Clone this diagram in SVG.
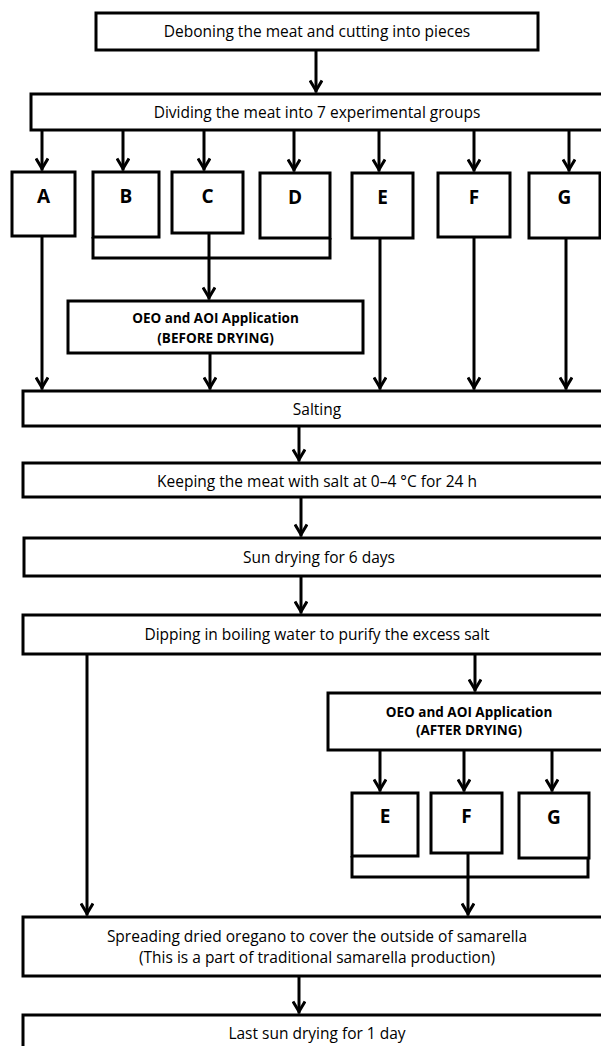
<svg xmlns="http://www.w3.org/2000/svg" width="601" height="1046" viewBox="0 0 601 1046">
<style>
.box{fill:#fff;stroke:#000;stroke-width:3}
.t{font-family:"Open Sans","Liberation Sans",Arial,sans-serif;font-size:15.5px;fill:#000;text-anchor:middle}
.b{font-family:"Open Sans","Liberation Sans",Arial,sans-serif;font-size:13.5px;font-weight:bold;fill:#000;text-anchor:middle}
.L{font-family:"Open Sans","Liberation Sans",Arial,sans-serif;font-size:19px;font-weight:bold;fill:#000;text-anchor:middle}
.c{fill:none;stroke:#000;stroke-width:3}
.a{marker-end:url(#arr)}
</style>
<defs>
<marker id="arr" viewBox="0 0 16 14" markerWidth="16" markerHeight="14" refX="15" refY="7" orient="auto" markerUnits="userSpaceOnUse">
<path d="M3,1 L13,7 L3,13" fill="none" stroke="#000" stroke-width="3"/>
</marker>
</defs>
<rect width="601" height="1046" fill="#fff"/>
<g id="connectors">
<line class="c a" x1="316" y1="51" x2="316" y2="92.5"/>
<line class="c a" x1="42" y1="131" x2="42" y2="170.5"/>
<line class="c a" x1="123" y1="131" x2="123" y2="170.5"/>
<line class="c a" x1="204" y1="131" x2="204" y2="170.5"/>
<line class="c a" x1="294" y1="131" x2="294" y2="171.5"/>
<line class="c a" x1="379" y1="131" x2="379" y2="171.5"/>
<line class="c a" x1="474" y1="131" x2="474" y2="171.5"/>
<line class="c a" x1="569" y1="131" x2="569" y2="171.5"/>
<line class="c a" x1="42" y1="237" x2="42" y2="389.5"/>
<path class="c" d="M93,237 V258 H330 V238"/>
<line class="c a" x1="209" y1="234" x2="209" y2="299.5"/>
<line class="c a" x1="210" y1="354" x2="210" y2="389.5"/>
<line class="c a" x1="380" y1="239" x2="380" y2="389.5"/>
<line class="c a" x1="474" y1="238" x2="474" y2="389.5"/>
<line class="c a" x1="566" y1="239" x2="566" y2="389.5"/>
<line class="c a" x1="299" y1="427" x2="299" y2="461.5"/>
<line class="c a" x1="301" y1="498" x2="301" y2="536.5"/>
<line class="c a" x1="301" y1="577" x2="301" y2="613.5"/>
<line class="c a" x1="475" y1="655" x2="475" y2="691.5"/>
<line class="c a" x1="87" y1="655" x2="87" y2="915.5"/>
<line class="c a" x1="380" y1="751" x2="380" y2="791.5"/>
<line class="c a" x1="464" y1="751" x2="464" y2="791.5"/>
<line class="c a" x1="552" y1="751" x2="552" y2="791.5"/>
<path class="c" d="M352,856 V877 H588 V858"/>
<line class="c a" x1="468" y1="854" x2="468" y2="915.5"/>
<line class="c a" x1="299" y1="977" x2="299" y2="1013.5"/>
</g>
<g id="n-deboning"><rect class="box" x="96" y="13" width="442" height="37"/><text class="t" x="317" y="37">Deboning the meat and cutting into pieces</text></g>
<g id="n-dividing"><rect class="box" x="31" y="94" width="580" height="36"/><text class="t" x="317" y="118">Dividing the meat into 7 experimental groups</text></g>
<g id="n-A"><rect class="box" x="12" y="172" width="63" height="64"/><text class="L" x="43.5" y="203">A</text></g>
<g id="n-B"><rect class="box" x="93" y="172" width="66" height="65"/><text class="L" x="126" y="203">B</text></g>
<g id="n-C"><rect class="box" x="172" y="172" width="71" height="61"/><text class="L" x="207.5" y="203">C</text></g>
<g id="n-D"><rect class="box" x="260" y="173" width="70" height="65"/><text class="L" x="295" y="204">D</text></g>
<g id="n-E"><rect class="box" x="352" y="173" width="61" height="65"/><text class="L" x="382.5" y="204">E</text></g>
<g id="n-F"><rect class="box" x="438" y="173" width="72" height="64"/><text class="L" x="474" y="204">F</text></g>
<g id="n-G"><rect class="box" x="529" y="173" width="71" height="65"/><text class="L" x="564.5" y="204">G</text></g>
<g id="n-before"><rect class="box" x="68" y="301" width="295" height="52"/><text class="b" x="215.5" y="323">OEO and AOI Application</text><text class="b" x="215.5" y="343">(BEFORE DRYING)</text></g>
<g id="n-salting"><rect class="box" x="23" y="391" width="588" height="35"/><text class="t" x="317" y="415">Salting</text></g>
<g id="n-keeping"><rect class="box" x="23" y="463" width="588" height="34"/><text class="t" x="317" y="487">Keeping the meat with salt at 0–4 °C for 24 h</text></g>
<g id="n-sun"><rect class="box" x="24" y="538" width="587" height="38"/><text class="t" x="319" y="563">Sun drying for 6 days</text></g>
<g id="n-dipping"><rect class="box" x="23" y="615" width="588" height="39"/><text class="t" x="317" y="640">Dipping in boiling water to purify the excess salt</text></g>
<g id="n-after"><rect class="box" x="328" y="693" width="283" height="57"/><text class="b" x="469" y="717">OEO and AOI Application</text><text class="b" x="469" y="735">(AFTER DRYING)</text></g>
<g id="n-E2"><rect class="box" x="352" y="793" width="66" height="63"/><text class="L" x="385" y="823">E</text></g>
<g id="n-F2"><rect class="box" x="431" y="793" width="71" height="60"/><text class="L" x="466.5" y="823">F</text></g>
<g id="n-G2"><rect class="box" x="519" y="793" width="70" height="65"/><text class="L" x="554" y="824">G</text></g>
<g id="n-spreading"><rect class="box" x="23" y="917" width="588" height="59"/><text class="t" x="317" y="942">Spreading dried oregano to cover the outside of samarella</text><text class="t" x="317" y="963">(This is a part of traditional samarella production)</text></g>
<g id="n-last"><rect class="box" x="23" y="1015" width="588" height="50"/><text class="t" x="317" y="1039">Last sun drying for 1 day</text></g>
</svg>
